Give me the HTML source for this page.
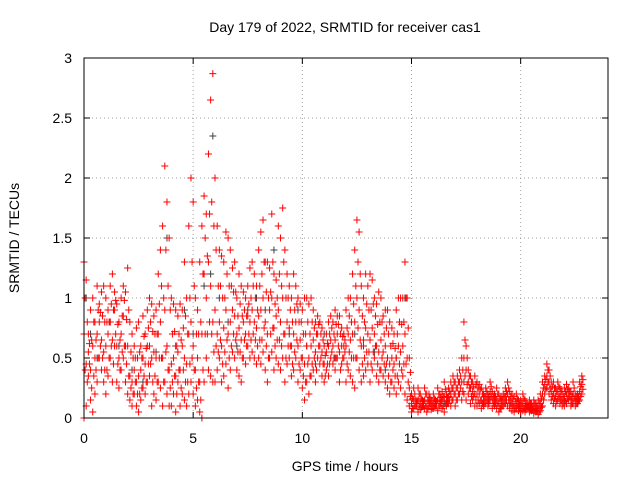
<!DOCTYPE html>
<html><head><meta charset="utf-8"><style>
html,body{margin:0;padding:0;background:#fff;width:640px;height:480px;overflow:hidden}
svg{display:block;font-family:"Liberation Sans",sans-serif}
</style></head><body>
<svg id="chart" width="640" height="480"></svg>
<script>
const xTicks=[0,5,10,15,20];
const yTicks=[0,0.5,1,1.5,2,2.5,3];
const yTickLabels=["0","0.5","1","1.5","2","2.5","3"];
const binStart=0, binStep=0.1, halfOffset=0.05;
const redHigh=[1.3,1.15,0.7,0.9,1.0,0.8,1.1,0.95,1.05,1.1,
1.0,0.9,1.1,1.2,1.05,0.95,0.8,1.0,1.1,1.05,
1.25,0.8,0.7,0.6,0.75,0.8,0.6,0.85,0.7,0.9,
1.0,0.95,0.85,0.9,1.2,1.4,1.6,2.1,1.8,1.5,
1.0,0.95,0.9,0.85,0.95,0.9,1.3,1.0,1.6,2.0,
1.8,1.0,0.9,1.3,1.6,1.85,1.7,2.2,2.65,2.87,
2.0,1.6,1.4,1.35,1.3,1.55,1.5,1.4,1.25,1.3,
1.0,1.2,1.1,1.05,1.0,1.1,1.25,1.3,1.2,1.1,
1.4,1.55,1.65,1.3,1.3,1.25,1.7,1.2,1.15,1.6,
1.5,1.75,1.4,1.2,1.1,1.0,1.2,1.1,1.0,0.95,
0.9,1.0,1.0,0.95,1.0,0.9,0.8,0.85,0.8,0.75,
0.6,0.7,0.8,0.85,0.8,0.9,0.85,0.85,0.75,0.7,
0.9,1.0,1.0,1.2,1.4,1.65,1.55,1.1,1.0,1.2,
1.1,1.2,1.15,1.0,0.95,1.05,1.0,0.85,0.9,0.9,
0.8,0.75,0.7,0.9,1.0,1.0,1.0,1.3,1.0,0.5,
0.2,0.25,0.15,0.25,0.2,0.15,0.25,0.2,0.2,0.15,
0.2,0.15,0.25,0.2,0.22,0.3,0.2,0.25,0.3,0.35,
0.3,0.35,0.4,0.5,0.8,0.6,0.4,0.35,0.3,0.35,
0.3,0.28,0.25,0.2,0.25,0.2,0.3,0.22,0.2,0.25,
0.2,0.18,0.2,0.25,0.3,0.22,0.2,0.18,0.2,0.15,
0.15,0.2,0.15,0.12,0.15,0.12,0.15,0.12,0.15,0.2,
0.3,0.35,0.45,0.4,0.3,0.3,0.25,0.3,0.25,0.22,
0.25,0.28,0.25,0.22,0.3,0.2,0.2,0.3,0.35];
const redMid=[0.7,0.45,0.55,0.4,0.6,0.5,0.7,0.8,0.65,0.55,
0.6,0.7,0.8,0.65,0.9,0.6,0.5,0.7,0.85,0.6,
0.6,0.35,0.3,0.4,0.3,0.35,0.4,0.5,0.45,0.6,
0.6,0.5,0.55,0.5,0.7,0.8,0.5,0.9,0.6,0.4,
0.45,0.5,0.35,0.55,0.4,0.6,0.5,0.45,0.7,0.8,
0.6,0.4,0.5,0.3,0.7,1.2,1.0,1.3,1.1,0.8,
0.9,0.7,0.8,0.6,0.75,0.9,0.7,0.8,0.9,0.85,
0.7,0.75,0.65,0.8,0.7,0.85,0.8,0.9,0.8,0.75,
0.85,0.9,1.0,0.8,0.7,0.9,1.0,0.75,0.85,0.9,
0.8,1.0,0.7,0.8,0.75,0.6,0.7,0.8,0.6,0.65,
0.5,0.45,0.6,0.5,0.6,0.65,0.55,0.7,0.6,0.55,
0.45,0.55,0.6,0.65,0.6,0.65,0.7,0.55,0.6,0.6,
0.6,0.7,0.65,0.7,0.8,1.0,0.9,0.6,0.65,0.75,
0.7,0.65,0.75,0.7,0.6,0.55,0.65,0.55,0.6,0.5,
0.45,0.5,0.45,0.5,0.6,0.55,0.6,0.7,0.5,0.25,
0.12,0.15,0.12,0.15,0.12,0.12,0.15,0.1,0.14,0.1,
0.12,0.12,0.15,0.14,0.15,0.18,0.14,0.18,0.2,0.25,
0.2,0.25,0.3,0.3,0.5,0.4,0.3,0.25,0.22,0.2,
0.2,0.2,0.15,0.15,0.18,0.15,0.22,0.15,0.15,0.15,
0.12,0.12,0.15,0.18,0.2,0.15,0.12,0.1,0.12,0.1,
0.1,0.12,0.1,0.1,0.1,0.08,0.1,0.08,0.08,0.12,
0.2,0.28,0.35,0.3,0.22,0.2,0.18,0.22,0.18,0.15,
0.18,0.2,0.2,0.15,0.2,0.15,0.16,0.22,0.28];
const redLow=[0.0,0.1,0.35,0.15,0.05,0.2,0.3,0.5,0.4,0.3,
0.2,0.35,0.5,0.3,0.6,0.3,0.25,0.4,0.5,0.3,
0.2,0.15,0.1,0.2,0.1,0.05,0.15,0.25,0.2,0.3,
0.35,0.1,0.2,0.15,0.3,0.25,0.1,0.3,0.2,0.1,
0.1,0.2,0.05,0.3,0.1,0.2,0.15,0.1,0.2,0.3,
0.2,0.1,0.15,0.05,0.0,0.3,0.5,0.4,0.35,0.3,
0.3,0.4,0.5,0.3,0.35,0.45,0.25,0.4,0.55,0.5,
0.4,0.35,0.3,0.5,0.45,0.6,0.5,0.55,0.5,0.45,
0.5,0.45,0.55,0.4,0.3,0.5,0.55,0.4,0.5,0.45,
0.4,0.5,0.3,0.45,0.5,0.35,0.4,0.5,0.3,0.4,
0.25,0.15,0.3,0.2,0.35,0.4,0.3,0.5,0.45,0.35,
0.3,0.4,0.35,0.5,0.45,0.4,0.5,0.3,0.45,0.5,
0.3,0.4,0.35,0.3,0.25,0.5,0.4,0.3,0.35,0.4,
0.45,0.3,0.4,0.5,0.35,0.3,0.4,0.35,0.3,0.25,
0.2,0.3,0.25,0.2,0.3,0.25,0.35,0.2,0.15,0.1,
0.05,0.08,0.1,0.05,0.07,0.1,0.08,0.05,0.1,0.07,
0.08,0.1,0.06,0.1,0.08,0.05,0.1,0.12,0.1,0.15,
0.1,0.15,0.2,0.15,0.2,0.15,0.2,0.12,0.15,0.1,
0.1,0.12,0.08,0.1,0.12,0.1,0.15,0.08,0.1,0.08,
0.05,0.08,0.1,0.12,0.1,0.08,0.06,0.05,0.08,0.06,
0.05,0.06,0.05,0.08,0.05,0.06,0.04,0.05,0.03,0.06,
0.1,0.2,0.25,0.2,0.15,0.12,0.1,0.15,0.12,0.1,
0.1,0.12,0.15,0.1,0.12,0.1,0.12,0.15,0.2];
const redQ1=[0.4,0.3,0.45,0.25,0.35,0.4,0.5,0.6,0.5,0.4,
0.4,0.5,0.6,0.45,0.7,0.45,0.4,0.55,0.6,0.45,
0.35,0.25,0.2,0.3,0.2,0.2,0.25,0.35,0.3,0.45,
0.45,0.3,0.35,0.3,0.5,0.5,0.3,0.55,0.4,0.25,
0.3,0.35,0.2,0.4,0.25,0.4,0.3,0.3,0.45,0.5,
0.4,0.25,0.3,0.15,0.4,0.7,0.7,0.8,0.7,0.55,
0.6,0.55,0.65,0.45,0.55,0.65,0.5,0.6,0.7,0.65,
0.55,0.55,0.5,0.65,0.6,0.7,0.65,0.7,0.65,0.6,
0.65,0.65,0.75,0.6,0.5,0.7,0.75,0.6,0.65,0.65,
0.6,0.7,0.5,0.6,0.6,0.45,0.55,0.65,0.45,0.5,
0.35,0.3,0.45,0.35,0.45,0.5,0.4,0.6,0.5,0.45,
0.35,0.45,0.45,0.55,0.5,0.5,0.6,0.4,0.5,0.55,
0.45,0.55,0.5,0.5,0.5,0.75,0.65,0.45,0.5,0.55,
0.55,0.45,0.55,0.6,0.45,0.4,0.5,0.45,0.45,0.35,
0.3,0.4,0.35,0.35,0.45,0.4,0.45,0.45,0.3,0.18,
0.08,0.1,0.1,0.1,0.09,0.1,0.1,0.08,0.12,0.08,
0.1,0.1,0.1,0.12,0.1,0.12,0.12,0.15,0.15,0.2,
0.15,0.2,0.25,0.22,0.35,0.28,0.25,0.18,0.18,0.15,
0.15,0.15,0.12,0.12,0.15,0.12,0.18,0.12,0.12,0.12,
0.08,0.1,0.12,0.15,0.15,0.12,0.1,0.08,0.1,0.08,
0.08,0.08,0.07,0.09,0.07,0.07,0.07,0.06,0.05,0.09,
0.15,0.24,0.3,0.25,0.18,0.16,0.14,0.18,0.15,0.12,
0.14,0.16,0.18,0.12,0.16,0.12,0.14,0.18,0.24];
const redQ3=[1.0,0.8,0.62,0.65,0.8,0.65,0.9,0.88,0.85,0.8,
0.8,0.8,0.95,0.9,0.98,0.78,0.65,0.85,0.98,0.82,
0.9,0.55,0.5,0.5,0.5,0.55,0.5,0.68,0.58,0.75,
0.8,0.72,0.7,0.7,0.95,1.1,1.0,1.4,1.1,0.9,
0.7,0.72,0.6,0.7,0.65,0.75,0.85,0.7,1.0,1.3,
1.1,0.7,0.7,0.8,1.2,1.5,1.35,1.7,1.8,1.6,
1.4,1.1,1.1,1.0,1.0,1.2,1.1,1.1,1.05,1.05,
0.85,0.95,0.85,0.9,0.85,0.95,1.0,1.1,1.0,0.9,
1.1,1.2,1.3,1.05,1.0,1.05,1.3,0.95,1.0,1.2,
1.1,1.3,1.0,1.0,0.9,0.8,0.9,0.95,0.8,0.8,
0.7,0.7,0.8,0.7,0.8,0.75,0.7,0.78,0.7,0.65,
0.52,0.62,0.7,0.75,0.7,0.78,0.78,0.7,0.68,0.65,
0.75,0.85,0.8,0.95,1.1,1.3,1.2,0.85,0.8,0.95,
0.9,0.9,0.95,0.85,0.78,0.8,0.8,0.7,0.75,0.7,
0.6,0.62,0.58,0.7,0.8,0.78,0.8,1.0,0.75,0.38,
0.16,0.2,0.14,0.2,0.16,0.14,0.2,0.15,0.17,0.12,
0.16,0.14,0.2,0.17,0.18,0.24,0.17,0.22,0.25,0.3,
0.25,0.3,0.35,0.4,0.65,0.5,0.35,0.3,0.26,0.28,
0.25,0.24,0.2,0.18,0.22,0.18,0.26,0.18,0.18,0.2,
0.16,0.15,0.18,0.22,0.25,0.18,0.16,0.14,0.16,0.12,
0.12,0.16,0.12,0.11,0.12,0.1,0.12,0.1,0.12,0.16,
0.25,0.32,0.4,0.35,0.26,0.25,0.22,0.26,0.22,0.18,
0.22,0.24,0.22,0.18,0.25,0.18,0.18,0.26,0.32];
const blackT=[0.1,0.3,0.6,1.2,1.6,2.2,2.7,3.3,3.8,4.2,4.6,5.0,5.5,5.8,5.9,6.2,6.6,7.0,7.5,7.9,8.3,8.7,9.0,9.4,9.8,10.2,10.6,11.0,11.5,12.0,12.4,12.8,13.3,13.8,14.3,14.7,15.5,16.5,17.4,18.5,19.5,20.5,21.2,22.0];
const blackV=[1.0,0.7,0.5,0.8,0.6,0.4,0.3,0.55,1.5,0.6,0.9,0.7,1.1,1.2,2.35,1.0,0.8,0.6,0.9,1.0,0.9,1.4,0.8,0.7,0.9,0.6,0.45,0.7,0.5,0.3,0.7,0.6,0.55,0.4,0.5,1.0,0.15,0.12,0.3,0.15,0.1,0.08,0.25,0.15];

const L=84,R=608,T=58,B=418,xMax=24,yMax=3;
const X=v=>L+(R-L)*v/xMax, Y=v=>B-(B-T)*v/yMax;
const svg=document.getElementById('chart');
const NS='http://www.w3.org/2000/svg';
function mk(tag,at,parent){const e=document.createElementNS(NS,tag);for(const k in at)e.setAttribute(k,at[k]);(parent||svg).appendChild(e);return e;}
const grid=mk('g',{});


xTicks.forEach(t=>{
  if(t>0){const g=mk('line',{x1:X(t),x2:X(t),y1:T,y2:B,stroke:'#a0a0a0','stroke-dasharray':'1,3'},grid);
  
  }
  mk('line',{x1:X(t),x2:X(t),y1:B,y2:B-6,stroke:'#000'});
  mk('line',{x1:X(t),x2:X(t),y1:T,y2:T+6,stroke:'#000'});
  const tx=mk('text',{x:X(t),y:443,'text-anchor':'middle','font-size':14,fill:'#000'});
  tx.textContent=String(t);
  
  
});
yTicks.forEach((t,i)=>{
  if(t>0&&t<yMax){const g=mk('line',{x1:L,x2:R,y1:Y(t),y2:Y(t),stroke:'#a0a0a0','stroke-dasharray':'1,3'},grid);
  
  }
  mk('line',{x1:L,x2:L+6,y1:Y(t),y2:Y(t),stroke:'#000'});
  mk('line',{x1:R,x2:R-6,y1:Y(t),y2:Y(t),stroke:'#000'});
  const tx=mk('text',{x:72,y:Y(t)+5,'text-anchor':'end','font-size':14,fill:'#000'});
  tx.textContent=yTickLabels[i];
  
  
});
function plus(g,x,y,c){mk('path',{d:`M${x-3.5},${y}h7M${x},${y-3.5}v7`,stroke:c,'stroke-width':1,fill:'none'},g);}
const gb=mk('g',{});


blackT.forEach((t,i)=>plus(gb,X(t),Y(blackV[i]),'#404040'));
const gr=mk('g',{});


[redLow,redMid,redHigh].forEach(arr=>arr.forEach((v,i)=>plus(gr,X(binStart+i*binStep),Y(v),'#ff0000')));
[redQ1,redQ3].forEach(arr=>arr.forEach((v,i)=>plus(gr,X(binStart+halfOffset+i*binStep),Y(v),'#ff0000')));
const frame=mk('rect',{x:L,y:T,width:R-L,height:B-T,fill:'none',stroke:'#000'});


const title=mk('text',{x:345,y:32,'text-anchor':'middle','font-size':14});
title.textContent='Day 179 of 2022, SRMTID for receiver cas1';


const xl=mk('text',{x:345,y:471,'text-anchor':'middle','font-size':14});
xl.textContent='GPS time / hours';


const yl=mk('text',{x:0,y:0,'text-anchor':'middle','font-size':14,transform:'translate(19,238) rotate(-90)'});
yl.textContent='SRMTID / TECUs';


</script>
</body></html>
